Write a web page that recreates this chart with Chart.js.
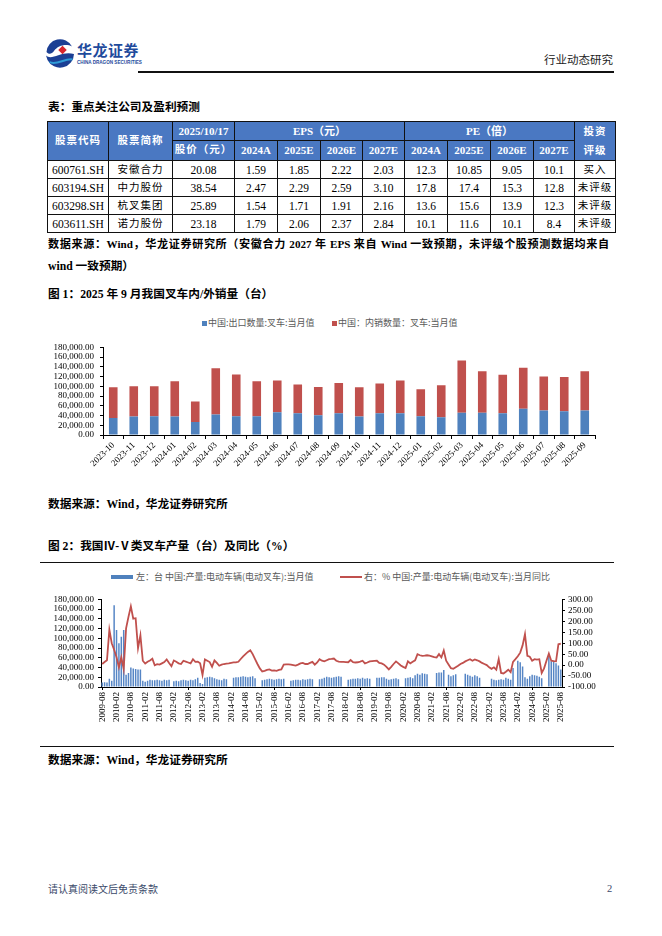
<!DOCTYPE html>
<html>
<head>
<meta charset="utf-8">
<script src="https://cdn.jsdelivr.net/npm/chart.js@4.4.0/dist/chart.umd.min.js"></script>
<style>
  body { margin: 0; width: 662px; height: 936px; background: #fff; position: relative; overflow: hidden;
         font-family: "Liberation Serif", "Noto Sans CJK SC", serif; color: #000; }
  .abs { position: absolute; white-space: nowrap; }
  .bt { font-weight: bold; font-size: 11.7px; line-height: 16px; }
  table { position: absolute; left: 47px; top: 121px; border-collapse: collapse; table-layout: fixed; }
  td { border: 1px solid #111; padding: 0; text-align: center; font-size: 11.5px; height: 17px; line-height: 16px; }
  td.h { background: #4a78c2; color: #fff; font-weight: bold; font-size: 11px; }
  td.cn { letter-spacing: 1px; font-size: 10.5px; }
  .leg { font-family: "Noto Sans CJK SC", sans-serif; font-size: 9px; color: #595959; line-height: 12px; }
</style>
</head>
<body>

<!-- header -->
<svg class="abs" style="left:44px;top:37px" width="32" height="32" viewBox="0 0 32 32">
  <circle cx="16" cy="16" r="15" fill="#fff"/>
  <path d="M2.5,15 A13.5,13.5 0 0 1 28,9.5 C22,6.5 14,8.5 10,14 C7.5,17.5 4.5,17.5 2.5,15Z" fill="#1c3f94"/>
  <path d="M2,18.5 C8,24 17,13.5 30,17 A14,14 0 0 1 3.5,23Z" fill="#1c3f94"/>
  <path d="M5.5,25 C12,29 21,21 28.5,22.5" stroke="#2f9bd6" stroke-width="2" fill="none"/>
  <rect x="15.5" y="10" width="6" height="6" transform="rotate(45 18.5 13)" fill="#d7262d"/>
</svg>
<div class="abs" style="left:77px;top:41px;font-family:'Noto Sans CJK SC';font-weight:bold;font-size:15px;line-height:18px;color:#1f4b9c;letter-spacing:0.5px">华龙证券</div>
<div class="abs" style="left:77px;top:60px;font-family:'Liberation Sans';font-weight:bold;font-size:4.6px;line-height:6px;color:#1f4b9c">CHINA DRAGON SECURITIES</div>
<div class="abs" style="left:138px;top:71px;width:476px;height:1.5px;background:#111"></div>
<div class="abs" style="left:544px;top:52px;font-family:'Noto Sans CJK SC';font-size:11.5px;line-height:14px;color:#222">行业动态研究</div>

<div class="abs bt" style="left:48px;top:100px">表：重点关注公司及盈利预测</div>
<table id="tbl"></table>
<div class="abs bt" style="left:48px;top:236px;width:561px;font-size:11.1px;text-align:justify;text-align-last:justify">数据来源：Wind，华龙证券研究所（安徽合力 2027 年 EPS 来自 Wind 一致预期，未评级个股预测数据均来自</div>
<div class="abs bt" style="left:48px;top:259px">wind 一致预期）</div>

<div class="abs bt" style="left:48px;top:287px">图 1：2025 年 9 月我国叉车内/外销量（台）</div>
<div class="abs" style="left:202px;top:321px;width:5px;height:5px;background:#4f81bd"></div>
<div class="abs leg" style="left:208px;top:317px">中国:出口数量:叉车:当月值</div>
<div class="abs" style="left:332px;top:321px;width:5px;height:5px;background:#c0504d"></div>
<div class="abs leg" style="left:338px;top:317px">中国：内销数量：叉车:当月值</div>
<canvas id="c1" class="abs" width="565" height="136" style="left:40px;top:336px"></canvas>
<div class="abs bt" style="left:48px;top:497px">数据来源：Wind，华龙证券研究所</div>

<div class="abs bt" style="left:48px;top:539px">图 2：我国Ⅳ-Ⅴ类叉车产量（台）及同比（%）</div>
<div class="abs" style="left:40px;top:562px;width:574px;height:1.2px;background:#111"></div>
<div class="abs" style="left:111px;top:575px;width:22px;height:4px;background:#4f81bd"></div>
<div class="abs leg" style="left:136px;top:571px">左：台 中国:产量:电动车辆(电动叉车):当月值</div>
<div class="abs" style="left:340px;top:576px;width:22px;height:2px;background:#c0504d"></div>
<div class="abs leg" style="left:364px;top:571px">右：% 中国:产量:电动车辆(电动叉车):当月同比</div>
<canvas id="c2" class="abs" width="575" height="135" style="left:40px;top:590px"></canvas>
<div class="abs" style="left:40px;top:746px;width:574px;height:1.2px;background:#111"></div>
<div class="abs bt" style="left:48px;top:753px">数据来源：Wind，华龙证券研究所</div>

<div class="abs" style="left:48px;top:882px;font-family:'Noto Sans CJK SC';font-size:10px;line-height:13px;color:#3b4a6a">请认真阅读文后免责条款</div>
<div class="abs" style="left:607px;top:882px;font-size:10.5px;line-height:13px;color:#3b4a6a">2</div>

<script>
// ---- table data ----
const codes = ['600761.SH', '603194.SH', '603298.SH', '603611.SH'];
const names = ['安徽合力', '中力股份', '杭叉集团', '诺力股份'];
const prices = ['20.08', '38.54', '25.89', '23.18'];
const eps2024A = ['1.59', '2.47', '1.54', '1.79'];
const eps2025E = ['1.85', '2.29', '1.71', '2.06'];
const eps2026E = ['2.22', '2.59', '1.91', '2.37'];
const eps2027E = ['2.03', '3.10', '2.16', '2.84'];
const pe2024A = ['12.3', '17.8', '13.6', '10.1'];
const pe2025E = ['10.85', '17.4', '15.6', '11.6'];
const pe2026E = ['9.05', '15.3', '13.9', '10.1'];
const pe2027E = ['10.1', '12.8', '12.3', '8.4'];
const ratings = ['买入', '未评级', '未评级', '未评级'];
const yearCols = ['2024A', '2025E', '2026E', '2027E'];

// ---- chart 1: monthly forklift sales ----
const months1 = ['2023-10', '2023-11', '2023-12', '2024-01', '2024-02', '2024-03', '2024-04', '2024-05',
  '2024-06', '2024-07', '2024-08', '2024-09', '2024-10', '2024-11', '2024-12', '2025-01', '2025-02',
  '2025-03', '2025-04', '2025-05', '2025-06', '2025-07', '2025-08', '2025-09'];
const exportQty = [34700, 38000, 38600, 38000, 26800, 41900, 38600, 38600, 46500, 44500, 40600, 44500,
  38000, 44500, 44500, 38600, 36700, 45800, 45800, 44500, 53700, 50400, 49000, 50400];
const domesticQty = [63300, 62000, 61400, 72600, 41900, 95500, 85800, 72000, 65500, 59500, 58200, 62200,
  60000, 61500, 67500, 55400, 65300, 107200, 85200, 79500, 84300, 69600, 70000, 80600];

// ---- chart 2: electric forklift output (thousand units) and yoy %, 2009-08 .. 2025-08 ----
const out2009 = [9, 10, 9, 17, 13];
const out2010 = [168, 117, 90, 103, 117, 25, 29, 40, 38, 37, 36, 36];
const out2011 = [13, 11, 13, 15, 14, 14, 15, 14, 13, 15, 14, 15];
const out2012 = [null, 12, 13, 12, 14, 15, 14, 13, 15, 14, 16, 19];
const out2013 = [8, 6, 19, 20, 21, 20, 18, 16, 15, 14, 17, 16];
const out2014 = [null, null, 19, 20, 20, 21, 22, 21, 20, 21, 22, 18];
const out2015 = [null, null, 14, 15, 16, 17, 16, 15, 16, 17, 16, 17];
const out2016 = [null, null, 13, 14, 15, 15, 14, 16, 15, 16, 17, 16];
const out2017 = [null, null, 16, 17, 19, 21, 20, 19, 20, 21, 22, 21];
const out2018 = [null, null, 15, 16, 17, 17, 18, 17, 19, 17, 18, 17];
const out2019 = [null, null, 19, 19, 20, 20, 17, 15, 16, 17, 18, 16];
const out2020 = [null, null, 18, 19, 20, 18, 24, 27, 25, 28, 27, 26];
const out2021 = [null, null, null, 29, 30, 30, 35, null, 25, 22, 24, 26];
const out2022 = [null, null, null, 27, 25, 23, 21, 24, 22, 19, null, null];
const out2023 = [null, null, 17, 15, 14, 15, 16, 15, 19, 17, 15, 39];
const out2024 = [null, 54, 51, 42, 20, 17, 22, 25, 24, 23, 21, 18];
const out2025 = [null, null, 67, 53, 54, 49, 44, 36];

const yoy2009 = [5, 14, 22, 162, 100];
const yoy2010 = [70, 36, -10, 36, -18, 168, 220, 268, 212, 214, 77, 136];
const yoy2011 = [20, 7, 15, 21, 29, -1, 4, 2, 8, 14, 26, 10];
const yoy2012 = [-5, 21, 15, 8, 5, 20, 16, 12, 8, 27, 15, 16];
const yoy2013 = [8, -45, 26, 20, 14, -8, 21, 10, -3, 2, 5, 7];
const yoy2014 = [8, 10, 12, 12, 15, 28, 40, 50, 60, 68, 50, 27];
const yoy2015 = [5, -15, -29, -26, -22, -20, -25, -24, -26, -22, -20, 2];
const yoy2016 = [3, 3, 2, 0, -2, 2, 8, 10, 5, 5, 10, 15];
const yoy2017 = [2, 12, 27, 20, 17, 22, 27, 28, 30, 20, 16, 15];
const yoy2018 = [15, 14, 13, 23, 13, 12, 13, 16, 20, 8, 12, 17];
const yoy2019 = [18, 19, 20, 10, 8, 2, -8, -20, -8, 5, 17, 8];
const yoy2020 = [-2, -8, -13, 17, 8, 15, 22, 50, 45, 42, 43, 45];
const yoy2021 = [43, 40, 36, 35, 50, 35, 67, 20, 3, -14, -17, -10];
const yoy2022 = [-3, 5, 10, 17, 22, 27, 20, 26, 22, 17, 10, 5];
const yoy2023 = [0, -10, -17, -10, -21, 27, -36, -38, -30, -21, -32, 15];
const yoy2024 = [27, 40, 57, 90, 141, 42, 38, 20, 27, 25, 27, -36];
const yoy2025 = [-15, 20, 53, 20, 18, 17, 95, 98];

// build table
const tbl = document.getElementById('tbl');
const colW = [61, 64, 62, 43, 43, 42, 42, 43, 43, 43, 41, 41];
let html = '<colgroup>' + colW.map(w => `<col style="width:${w}px">`).join('') + '</colgroup>';
html += '<tr style="height:18px"><td class="h cn" rowspan="2">股票代码</td><td class="h cn" rowspan="2">股票简称</td>' +
  '<td class="h">2025/10/17</td><td class="h" colspan="4">EPS（元）</td><td class="h" colspan="4">PE（倍）</td>' +
  '<td class="h cn" rowspan="2" style="line-height:19px">投资<br>评级</td></tr>';
html += '<tr style="height:19px"><td class="h cn">股价（元）</td>' +
  yearCols.map(y => `<td class="h">${y}</td>`).join('') + yearCols.map(y => `<td class="h">${y}</td>`).join('') + '</tr>';
codes.forEach((c, i) => {
  const cells = [c, names[i], prices[i], eps2024A[i], eps2025E[i], eps2026E[i], eps2027E[i],
    pe2024A[i], pe2025E[i], pe2026E[i], pe2027E[i], ratings[i]];
  html += '<tr style="height:18px">' + cells.map((v, j) =>
    `<td class="${j === 1 || j === 11 ? 'cn' : ''}">${v}</td>`).join('') + '</tr>';
});
tbl.innerHTML = html;

Chart.defaults.font.family = '"Liberation Serif", "Noto Sans CJK SC", serif';
Chart.defaults.color = '#000';
const fmt = v => Number(v).toLocaleString('en-US', { minimumFractionDigits: 2, maximumFractionDigits: 2 });

new Chart(document.getElementById('c1'), {
  type: 'bar',
  data: {
    labels: months1,
    datasets: [
      { label: '中国:出口数量:叉车:当月值', data: exportQty, backgroundColor: '#4f81bd',
        barPercentage: 0.42, categoryPercentage: 1 },
      { label: '中国：内销数量：叉车:当月值', data: domesticQty, backgroundColor: '#c0504d',
        barPercentage: 0.42, categoryPercentage: 1 }
    ]
  },
  options: {
    responsive: false,
    animation: false,
    layout: { padding: { top: 7, right: 10, left: 0, bottom: 0 } },
    plugins: { legend: { display: false }, tooltip: { enabled: false } },
    scales: {
      x: {
        stacked: true,
        grid: { drawOnChartArea: false, color: '#000', tickLength: 4 },
        border: { color: '#000' },
        ticks: { font: { size: 9 }, minRotation: 45, maxRotation: 45, autoSkip: false, padding: 1 },
        afterFit: s => { s.height = 37; }
      },
      y: {
        stacked: true, min: 0, max: 180000,
        grid: { drawOnChartArea: false, color: '#000', tickLength: 3 },
        border: { color: '#000' },
        ticks: { stepSize: 20000, autoSkip: false, font: { size: 9 }, padding: 6, callback: v => fmt(v) },
        afterFit: s => { s.width = 63; }
      }
    }
  }
});

// chart 2
const months2 = [];
for (let y = 2009, m = 8; y < 2025 || (y === 2025 && m <= 8); m++) {
  if (m > 12) { m = 1; y++; if (y === 2025 && m > 8) break; }
  months2.push(`${y}-${String(m).padStart(2, '0')}`);
}
const outK = [].concat(out2009, out2010, out2011, out2012, out2013, out2014, out2015, out2016, out2017,
  out2018, out2019, out2020, out2021, out2022, out2023, out2024, out2025);
const output = outK.map(v => v === null ? null : v * 1000);
const yoy = [].concat(yoy2009, yoy2010, yoy2011, yoy2012, yoy2013, yoy2014, yoy2015, yoy2016, yoy2017,
  yoy2018, yoy2019, yoy2020, yoy2021, yoy2022, yoy2023, yoy2024, yoy2025);

new Chart(document.getElementById('c2'), {
  type: 'bar',
  data: {
    labels: months2.slice(0, output.length),
    datasets: [
      { type: 'line', label: '右：% 中国:产量:电动车辆(电动叉车):当月同比', data: yoy, yAxisID: 'y1',
        borderColor: '#c0504d', borderWidth: 1.8, pointRadius: 0, tension: 0, spanGaps: true, order: 0 },
      { label: '左：台 中国:产量:电动车辆(电动叉车):当月值', data: output, yAxisID: 'y',
        backgroundColor: '#5585c5', barPercentage: 0.62, categoryPercentage: 1, order: 1 }
    ]
  },
  options: {
    responsive: false,
    animation: false,
    layout: { padding: { top: 7, right: 0, left: 0, bottom: 0 } },
    plugins: { legend: { display: false }, tooltip: { enabled: false } },
    scales: {
      x: {
        offset: true,
        grid: { offset: false, drawOnChartArea: false, tickLength: 3,
                color: c => (c.index % 6 === 0 ? '#000' : 'rgba(0,0,0,0)') },
        border: { color: '#000' },
        ticks: {
          font: { size: 9 }, minRotation: 90, maxRotation: 90, autoSkip: false, padding: 2,
          callback: function (v, i) { return i % 6 === 0 ? this.getLabelForValue(v) : null; }
        },
        afterFit: s => { s.height = 38; }
      },
      y: {
        position: 'left', min: 0, max: 180000,
        grid: { drawOnChartArea: false, color: '#000', tickLength: 3 },
        border: { color: '#000' },
        ticks: { stepSize: 20000, autoSkip: false, font: { size: 9 }, padding: 4, callback: v => fmt(v) },
        afterFit: s => { s.width = 61; }
      },
      y1: {
        position: 'right', min: -100, max: 300,
        grid: { drawOnChartArea: false, color: '#000', tickLength: 3 },
        border: { color: '#000' },
        ticks: { stepSize: 50, autoSkip: false, font: { size: 9 }, padding: 3, callback: v => Number(v).toFixed(2) },
        afterFit: s => { s.width = 53; }
      }
    }
  }
});
</script>
</body>
</html>
